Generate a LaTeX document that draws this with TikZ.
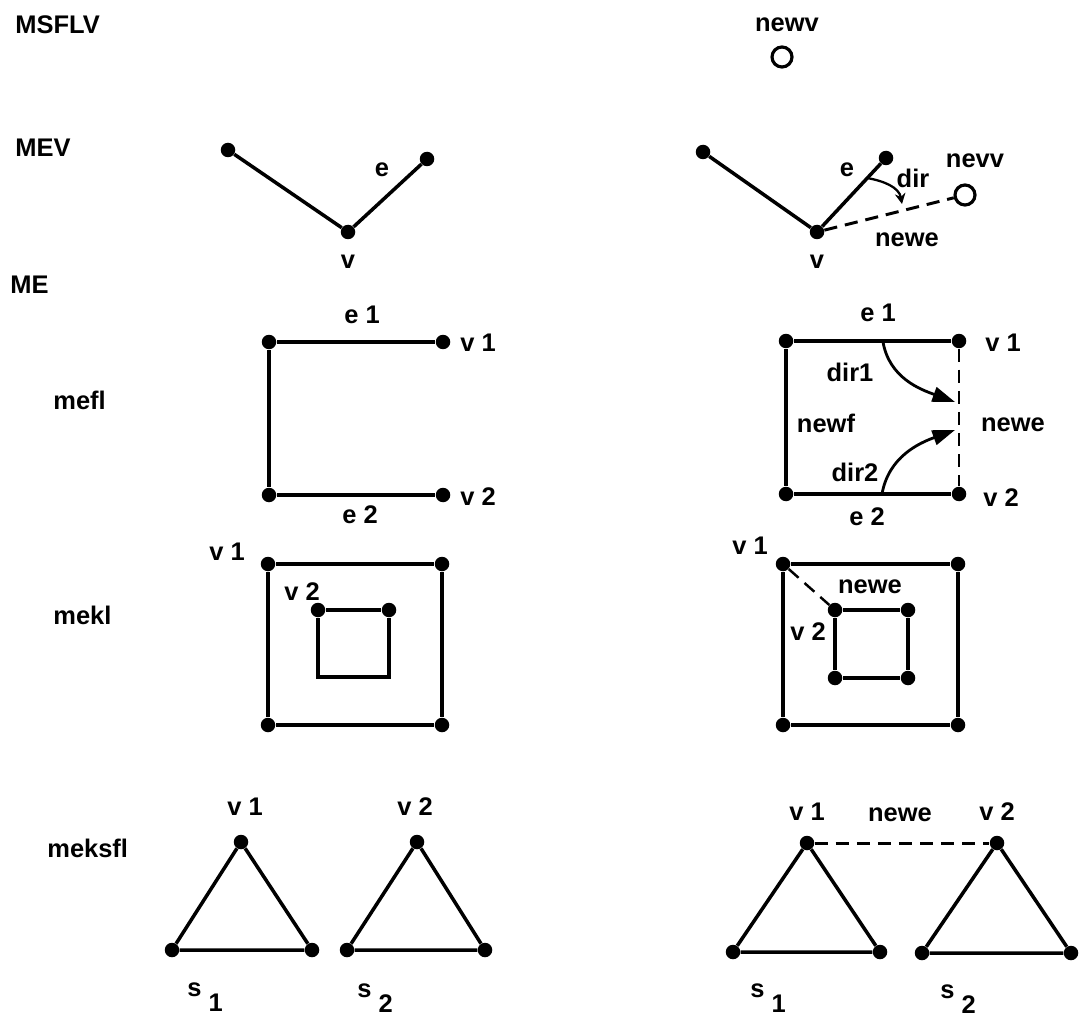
\documentclass[tikz,border=0pt]{standalone}
\usepackage{fontspec}
\setmainfont{Liberation Sans}
\usetikzlibrary{arrows.meta}
\begin{document}
\begin{tikzpicture}[x=0.02cm,y=-0.02cm,
  dot/.style={circle,fill=black,inner sep=0pt,minimum size=0.29cm},
  odot/.style={circle,draw=black,line width=1.8pt,fill=white,inner sep=0pt,minimum size=0.40cm},
  edge/.style={line width=2pt},
  newedge/.style={line width=1.7pt,dash pattern=on 7.5pt off 4.5pt},
  lbl/.style={font=\fontsize{14.5}{16}\selectfont\bfseries,inner sep=0pt},
  opname/.style={lbl,anchor=west},
  dirarrow/.style={line width=1.3pt,-{Stealth[length=6pt,width=6pt]}},
  bigarrow/.style={line width=1.6pt,-{Triangle[length=0.45cm,width=0.3cm]}},
  sub/.style={lbl}
]
\useasboundingbox (0,0) rectangle (1081,1020);

% ---------- operation names ----------
\node[opname] (tMSFLV) at (15,25) {MSFLV};
\node[opname] (tMEV) at (15,148) {MEV};
\node[opname] (tME) at (10,285) {ME};
\node[opname] (tmefl) at (53,400) {mefl};
\node[opname] (tmekl) at (53,615) {mekl};
\node[opname] (tmeksfl) at (47,848) {meksfl};

% ---------- MSFLV ----------
\node[lbl] (tnewv) at (787,25) {newv};
\node[odot] (newv) at (782,57) {};

% ---------- MEV left ----------
\node[dot] (a1) at (228,150) {};
\node[dot] (av) at (348,232) {};
\node[dot] (ae) at (427,159) {};
\draw[edge] (a1) -- (av) -- (ae);
\node[lbl] (tae) at (382,170) {e};
\node[lbl] (tav) at (348,262) {v};

% ---------- MEV right ----------
\node[dot] (b1) at (703,152) {};
\node[dot] (bv) at (817,232) {};
\node[dot] (be) at (886,158) {};
\node[odot] (bn) at (965,195) {};
\draw[edge] (b1) -- (bv) -- (be);
\draw[newedge] (bv) -- (bn);
\coordinate (bdirS) at (867,178);
\coordinate (bdirE) at (902,204);
\draw[dirarrow] (bdirS) to[out=-10,in=100] (bdirE);
\node[lbl] (tbe) at (847,170) {e};
\node[lbl] (tbdir) at (913,178) {dir};
\node[lbl] (tbnevv) at (975,161) {nevv};
\node[lbl] (tbnewe) at (907,240) {newe};
\node[lbl] (tbv) at (817,262) {v};

% ---------- mefl left ----------
\node[dot] (c1) at (269,342) {};
\node[dot] (cv1) at (443,342) {};
\node[dot] (c2) at (269,495) {};
\node[dot] (cv2) at (443,495) {};
\draw[edge] (cv1) -- (c1) -- (c2) -- (cv2);
\node[lbl] (tce1) at (362,315) {e 1};
\node[lbl] (tcv1) at (478,343) {v 1};
\node[lbl] (tcv2) at (478,497) {v 2};
\node[lbl] (tce2) at (360,515) {e 2};

% ---------- mefl right ----------
\node[dot] (d1) at (786,341) {};
\node[dot] (dv1) at (959,341) {};
\node[dot] (d2) at (786,494) {};
\node[dot] (dv2) at (959,494) {};
\draw[edge] (dv1) -- (d1) -- (d2) -- (dv2);
\draw[newedge,line width=1.4pt] (dv1) -- (dv2);
\coordinate (ddir1S) at (883,342);
\coordinate (ddir1E) at (955,402);
\coordinate (ddir2S) at (882,494);
\coordinate (ddir2E) at (955,430);
\draw[bigarrow] (ddir1S) to[out=-80,in=160] (ddir1E);
\draw[bigarrow] (ddir2S) to[out=80,in=200] (ddir2E);
\node[lbl] (tde1) at (878,313) {e 1};
\node[lbl] (tdv1) at (1003,343) {v 1};
\node[lbl] (tdnewe) at (1013,425) {newe};
\node[lbl] (tdv2) at (1001,498) {v 2};
\node[lbl] (tde2) at (867,517) {e 2};
\node[lbl] (tddir1) at (850,372) {dir1};
\node[lbl] (tdnewf) at (826,423) {newf};
\node[lbl] (tddir2) at (855,472) {dir2};

% ---------- mekl left ----------
\node[dot] (e1) at (268,564) {};
\node[dot] (e2) at (442,564) {};
\node[dot] (e3) at (442,725) {};
\node[dot] (e4) at (268,725) {};
\draw[edge] (e1) -- (e2) -- (e3) -- (e4) -- (e1);
\node[dot] (f1) at (318,610) {};
\node[dot] (f2) at (389,610) {};
\coordinate (f3) at (389,677);
\coordinate (f4) at (318,677);
\draw[edge,line join=miter] (f1) -- (f2) -- (f3) -- (f4) -- (f1);
\node[lbl] (tev1) at (227,552) {v 1};
\node[lbl] (tfv2) at (302,592) {v 2};

% ---------- mekl right ----------
\node[dot] (g1) at (783,564) {};
\node[dot] (g2) at (958,564) {};
\node[dot] (g3) at (958,725) {};
\node[dot] (g4) at (783,725) {};
\draw[edge] (g1) -- (g2) -- (g3) -- (g4) -- (g1);
\node[dot] (h1) at (835,610) {};
\node[dot] (h2) at (908,610) {};
\node[dot] (h3) at (908,678) {};
\node[dot] (h4) at (835,678) {};
\draw[edge] (h1) -- (h2) -- (h3) -- (h4) -- (h1);
\draw[newedge,line width=1.4pt] (g1) -- (h1);
\node[lbl] (tgv1) at (750,546) {v 1};
\node[lbl] (thnewe) at (870,587) {newe};
\node[lbl] (thv2) at (808,632) {v 2};

% ---------- meksfl left ----------
\node[dot] (p1) at (241,842) {};
\node[dot] (p2) at (172,950) {};
\node[dot] (p3) at (312,950) {};
\draw[edge] (p1) -- (p2) -- (p3) -- (p1);
\node[dot] (q1) at (417,842) {};
\node[dot] (q2) at (347,950) {};
\node[dot] (q3) at (485,950) {};
\draw[edge] (q1) -- (q2) -- (q3) -- (q1);
\node[lbl] (tpv1) at (245,807) {v 1};
\node[lbl] (tqv2) at (415,807) {v 2};
\node[sub] (tps1) at (205,997) {s\kern4pt\raisebox{-0.6em}{1}};
\node[sub] (tqs2) at (375,998) {s\kern4pt\raisebox{-0.6em}{2}};

% ---------- meksfl right ----------
\node[dot] (r1) at (807,843) {};
\node[dot] (r2) at (733,952) {};
\node[dot] (r3) at (880,952) {};
\draw[edge] (r1) -- (r2) -- (r3) -- (r1);
\node[dot] (w1) at (997,843) {};
\node[dot] (w2) at (922,953) {};
\node[dot] (w3) at (1071,953) {};
\draw[edge] (w1) -- (w2) -- (w3) -- (w1);
\draw[newedge] (r1) -- (w1);
\node[lbl] (trv1) at (807,812) {v 1};
\node[lbl] (trnewe) at (900,815) {newe};
\node[lbl] (twv2) at (997,812) {v 2};
\node[sub] (trs1) at (768,998) {s\kern4pt\raisebox{-0.6em}{1}};
\node[sub] (tws2) at (958,999) {s\kern4pt\raisebox{-0.6em}{2}};
\end{tikzpicture}
\end{document}
